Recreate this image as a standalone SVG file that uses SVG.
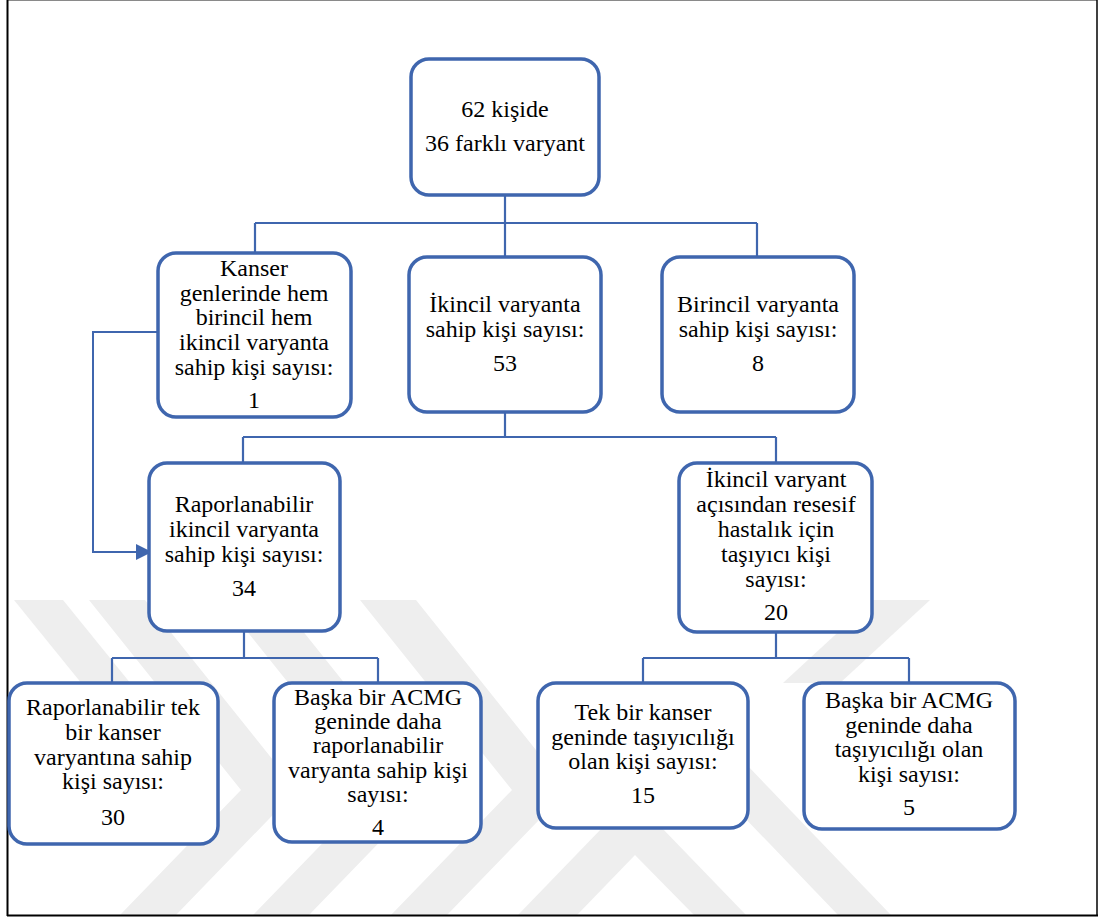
<svg xmlns="http://www.w3.org/2000/svg" width="1103" height="919" viewBox="0 0 1103 919">
  <style>
    .box { fill: #ffffff; stroke: #3F66AE; stroke-width: 3.5; }
    .link { fill: none; stroke: #3F66AE; stroke-width: 2.2; }
    .lbl { font-family: "Liberation Serif", "Times New Roman", serif; font-size: 24px; fill: #000000; text-anchor: middle; }
    .mark { fill: #eeeeee; }
  </style>

  <rect x="0" y="0" width="1103" height="919" fill="#ffffff"/>

  <!-- faint background emblem -->
  <g id="emblem">
    <polygon class="mark" points="120,915 241,790 89,600 145,600 297,790 176,915"/>
    <polygon class="mark" points="253,915 374,790 222,600 278,600 430,790 309,915"/>
    <polygon class="mark" points="391,915 512,790 360,600 416,600 568,790 447,915"/>
    <polygon class="mark" points="518,915 632,797 746,915 694,915 635,855 577,915"/>
    <polygon class="mark" points="838,915 891,915 675,690 622,690"/>
    <polygon class="mark" points="14,600 63,600 144,700 95,700"/>
    <polygon class="mark" points="873,600 930,600 840,683 783,683"/>
  </g>

  <!-- page frame -->
  <g id="frame">
    <line x1="7" y1="0.5" x2="1097" y2="0.5" stroke="#8a8a8a" stroke-width="1"/>
    <line x1="7.5" y1="0" x2="7.5" y2="916" stroke="#000000" stroke-width="2"/>
    <line x1="1097" y1="0" x2="1097" y2="916" stroke="#000000" stroke-width="1.5"/>
    <line x1="7" y1="915.5" x2="1098" y2="915.5" stroke="#000000" stroke-width="2"/>
  </g>

  <!-- connectors -->
  <g id="connectors">
    <path class="link" d="M505,195 V223 M255,223 H757 M255,223 V253 M505,223 V257 M757,223 V257"/>
    <path class="link" d="M505,412 V437 M243,437 H776 M243,437 V463 M776,437 V463"/>
    <path class="link" d="M244,631 V658 M112,658 H378 M112,658 V683 M378,658 V683"/>
    <path class="link" d="M776,632 V658 M643,658 H909 M643,658 V683 M909,658 V683"/>
    <path class="link" d="M158,332 H93 V552 H139" style="stroke-width:2"/>
    <path d="M136,544 L152,552 L136,560 Z" fill="#3F66AE"/>
  </g>

  <g id="n-total">
    <rect class="box" x="411" y="59" width="188" height="136" rx="18"/>
    <text class="lbl"><tspan x="505" y="117">62 kişide</tspan><tspan x="505" y="151">36 farklı varyant</tspan></text>
  </g>

  <g id="n-both">
    <rect class="box" x="158" y="253" width="193" height="164" rx="18"/>
    <text class="lbl"><tspan x="254" y="276">Kanser</tspan><tspan x="254" y="301">genlerinde hem</tspan><tspan x="254" y="325">birincil hem</tspan><tspan x="254" y="350">ikincil varyanta</tspan><tspan x="254" y="375">sahip kişi sayısı:</tspan><tspan x="254" y="408">1</tspan></text>
  </g>

  <g id="n-secondary">
    <rect class="box" x="409" y="257" width="192" height="155" rx="18"/>
    <text class="lbl"><tspan x="505" y="312">İkincil varyanta</tspan><tspan x="505" y="337">sahip kişi sayısı:</tspan><tspan x="505" y="371">53</tspan></text>
  </g>

  <g id="n-primary">
    <rect class="box" x="662" y="257" width="192" height="155" rx="18"/>
    <text class="lbl"><tspan x="758" y="312">Birincil varyanta</tspan><tspan x="758" y="337">sahip kişi sayısı:</tspan><tspan x="758" y="371">8</tspan></text>
  </g>

  <g id="n-reportable">
    <rect class="box" x="149" y="463" width="191" height="168" rx="18"/>
    <text class="lbl"><tspan x="244" y="512">Raporlanabilir</tspan><tspan x="244" y="537">ikincil varyanta</tspan><tspan x="244" y="562">sahip kişi sayısı:</tspan><tspan x="244" y="596">34</tspan></text>
  </g>

  <g id="n-carrier">
    <rect class="box" x="679" y="463" width="193" height="169" rx="18"/>
    <text class="lbl"><tspan x="776" y="487">İkincil varyant</tspan><tspan x="776" y="512">açısından resesif</tspan><tspan x="776" y="537">hastalık için</tspan><tspan x="776" y="562">taşıyıcı kişi</tspan><tspan x="776" y="587">sayısı:</tspan><tspan x="776" y="620">20</tspan></text>
  </g>

  <g id="n-single-cancer">
    <rect class="box" x="9" y="683" width="209" height="161" rx="18"/>
    <text class="lbl"><tspan x="113" y="715">Raporlanabilir tek</tspan><tspan x="113" y="740">bir kanser</tspan><tspan x="113" y="765">varyantına sahip</tspan><tspan x="113" y="789">kişi sayısı:</tspan><tspan x="113" y="825">30</tspan></text>
  </g>

  <g id="n-other-acmg-reportable">
    <rect class="box" x="274" y="683" width="207" height="159" rx="18"/>
    <text class="lbl"><tspan x="378" y="705">Başka bir ACMG</tspan><tspan x="378" y="729">geninde daha</tspan><tspan x="378" y="753">raporlanabilir</tspan><tspan x="378" y="778">varyanta sahip kişi</tspan><tspan x="378" y="802">sayısı:</tspan><tspan x="378" y="835">4</tspan></text>
  </g>

  <g id="n-single-carrier">
    <rect class="box" x="538" y="683" width="210" height="145" rx="18"/>
    <text class="lbl"><tspan x="643" y="720">Tek bir kanser</tspan><tspan x="643" y="745">geninde taşıyıcılığı</tspan><tspan x="643" y="769">olan kişi sayısı:</tspan><tspan x="643" y="803">15</tspan></text>
  </g>

  <g id="n-other-acmg-carrier">
    <rect class="box" x="804" y="683" width="211" height="146" rx="18"/>
    <text class="lbl"><tspan x="909" y="708">Başka bir ACMG</tspan><tspan x="909" y="733">geninde daha</tspan><tspan x="909" y="757">taşıyıcılığı olan</tspan><tspan x="909" y="782">kişi sayısı:</tspan><tspan x="909" y="815">5</tspan></text>
  </g>
</svg>
